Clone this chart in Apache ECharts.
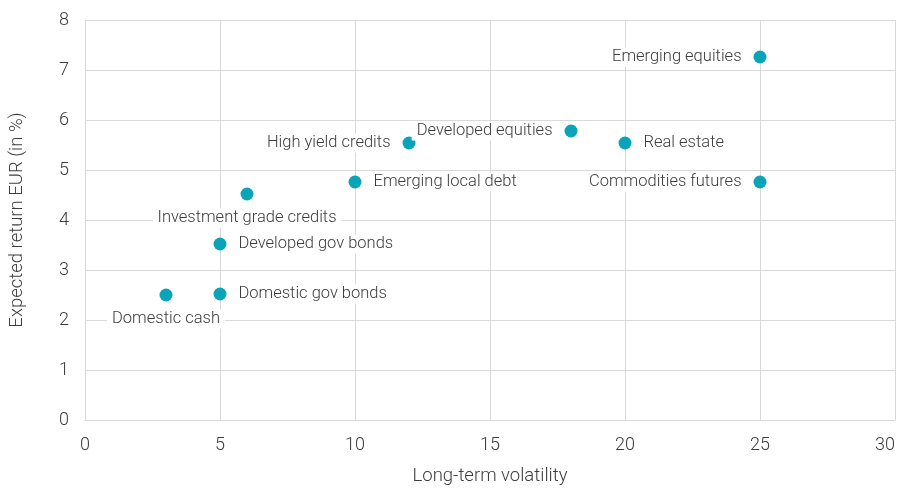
<!DOCTYPE html>
<html>
<head>
<meta charset="utf-8">
<script src="https://cdn.jsdelivr.net/npm/echarts@6/dist/echarts.min.js"></script>
<style>
  html, body { margin: 0; padding: 0; background: #fff; }
  #chart { width: 901px; height: 488px; }
</style>
</head>
<body>
<div id="chart"></div>
<script>
// asset classes
const names = [
    "Emerging equities", "Developed equities", "High yield credits", "Real estate",
    "Commodities futures", "Emerging local debt", "Investment grade credits",
    "Developed gov bonds", "Domestic gov bonds", "Domestic cash"
];
const volatility = [25, 18, 12, 20, 25, 10, 6, 5, 5, 3];
const expReturn = [7.26, 5.78, 5.54, 5.54, 4.76, 4.76, 4.52, 3.52, 2.52, 2.5];

const xTicks = [0, 5, 10, 15, 20, 25, 30];
const yTicks = [0, 1, 2, 3, 4, 5, 6, 7, 8];

// where each label sits relative to its dot
const labelSide = {
    "Emerging equities": "left",
    "Developed equities": "left",
    "High yield credits": "left",
    "Real estate": "right",
    "Commodities futures": "left",
    "Emerging local debt": "right",
    "Investment grade credits": "bottom",
    "Developed gov bonds": "right",
    "Domestic gov bonds": "right",
    "Domestic cash": "bottom"
};

const font = "Roboto";
const textColor = "#3c3c3c";
const gridColor = "#d9d9d9";

let chart = echarts.init(document.getElementById("chart"));

let points = names.map(function (n, i) {
    let side = labelSide[n];
    return {
        name: n,
        value: [volatility[i], expReturn[i]],
        label: {
            position: side,
            distance: side === "bottom" ? 8 : 7
        }
    };
});

chart.setOption({
    animation: false,
    grid: {left: 85, right: 6, top: 20, bottom: 68, outerBoundsMode: "none"},
    xAxis: {
        type: "value",
        min: xTicks[0],
        max: xTicks[xTicks.length - 1],
        interval: 5,
        name: "Long-term volatility",
        nameLocation: "middle",
        nameGap: 47,
        nameTextStyle: {fontFamily: font, fontSize: 18.5, fontWeight: 300, color: textColor},
        axisLine: {show: true, lineStyle: {color: gridColor, width: 1}},
        axisTick: {show: false},
        axisLabel: {
            fontFamily: font, fontSize: 18, fontWeight: 300, color: textColor, margin: 16,
            alignMaxLabel: "right"
        },
        splitLine: {show: true, lineStyle: {color: gridColor, width: 1}}
    },
    yAxis: {
        type: "value",
        min: yTicks[0],
        max: yTicks[yTicks.length - 1],
        interval: 1,
        name: "Expected return EUR (in %)",
        nameLocation: "middle",
        nameGap: 58,
        nameTextStyle: {fontFamily: font, fontSize: 18.5, fontWeight: 300, color: textColor},
        axisLine: {show: true, lineStyle: {color: gridColor, width: 1}},
        axisTick: {show: false},
        axisLabel: {fontFamily: font, fontSize: 18, fontWeight: 300, color: textColor, margin: 16},
        splitLine: {show: true, lineStyle: {color: gridColor, width: 1}}
    },
    series: [{
        type: "scatter",
        symbolSize: 13,
        itemStyle: {color: "#0aa4b9", opacity: 1},
        data: points,
        label: {
            show: true,
            formatter: "{b}",
            fontFamily: font,
            fontSize: 16.5,
            fontWeight: 300,
            color: textColor,
            backgroundColor: "#fff",
            padding: [1, 5]
        }
    }]
});
</script>
</body>
</html>
